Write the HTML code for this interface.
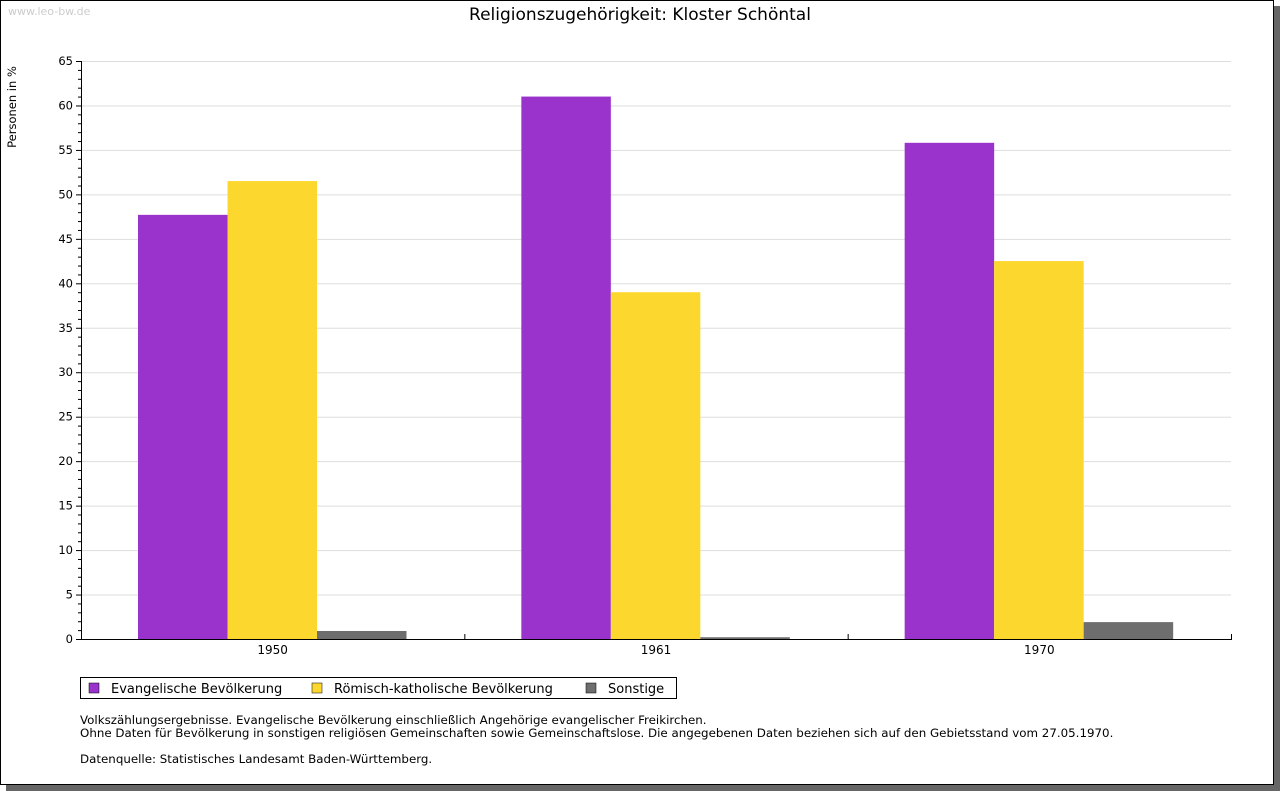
<!DOCTYPE html>
<html><head><meta charset="utf-8"><style>
body{margin:0;background:#fff;font-family:"Liberation Sans","DejaVu Sans",sans-serif}
svg text{font-family:"DejaVu Sans","Liberation Sans",sans-serif}
</style></head><body>
<svg id="c" width="1280" height="791" xmlns="http://www.w3.org/2000/svg">
<rect x="6" y="6" width="1274" height="785" fill="#666"/>
<rect x="0.5" y="0.5" width="1273" height="784" fill="#fff" stroke="#000"/>
<text x="8" y="15" font-size="11" fill="#ccc">www.leo-bw.de</text>
<text x="640" y="20" font-size="17" text-anchor="middle">Religionszugehörigkeit: Kloster Schöntal</text>
<text transform="translate(16,107) rotate(-90)" font-size="11.5" text-anchor="middle">Personen in %</text>
<g id="grid"></g><g id="bars"></g><g id="axes"></g>
<g>
<rect x="80.5" y="677.5" width="596" height="21" fill="#fff" stroke="#000"/>
<rect x="89" y="683" width="10" height="10" fill="#9933cc" stroke="#000" stroke-width="0.5"/>
<text x="111" y="693" font-size="13">Evangelische Bevölkerung</text>
<rect x="312" y="683" width="10" height="10" fill="#fcd82f" stroke="#000" stroke-width="0.5"/>
<text x="334" y="693" font-size="13">Römisch-katholische Bevölkerung</text>
<rect x="586" y="683" width="10" height="10" fill="#6e6e6e" stroke="#000" stroke-width="0.5"/>
<text x="608" y="693" font-size="13">Sonstige</text>
</g>
<g font-size="11.85">
<text x="80" y="724">Volkszählungsergebnisse. Evangelische Bevölkerung einschließlich Angehörige evangelischer Freikirchen.</text>
<text x="80" y="737">Ohne Daten für Bevölkerung in sonstigen religiösen Gemeinschaften sowie Gemeinschaftslose. Die angegebenen Daten beziehen sich auf den Gebietsstand vom 27.05.1970.</text>
<text x="80" y="763">Datenquelle: Statistisches Landesamt Baden-Württemberg.</text>
</g>
</svg>
<script>
const categories=["1950","1961","1970"];
const evangelisch=[47.7,61.0,55.8];
const katholisch=[51.5,39.0,42.5];
const sonstige=[0.9,0.2,1.9];
const yTicks=[0,5,10,15,20,25,30,35,40,45,50,55,60,65];
const NS="http://www.w3.org/2000/svg";
const X0=81,X1=1231,Y0=639,Y1=61,YMAX=65;
const y=v=>Y0-(v/YMAX)*(Y0-Y1);
const gw=(X1-X0)/categories.length;
const x=i=>X0+i*gw;
function mk(t,a,p){const e=document.createElementNS(NS,t);for(const k in a)e.setAttribute(k,a[k]);p.appendChild(e);return e;}
const grid=document.getElementById('grid'),bars=document.getElementById('bars'),axes=document.getElementById('axes');
yTicks.forEach(v=>{
 const l=mk('line',{x1:X0,x2:X1,y1:y(v)+0.5,y2:y(v)+0.5,stroke:'#ddd'},grid);
 
 
 const t=mk('text',{x:X0-8,y:y(v)+4,'font-size':11.5,'text-anchor':'end'},axes);t.textContent=v;
 
 
});
for(let v=0;v<=YMAX;v++){mk('line',{x1:X0-(v%5?3:5),x2:X0,y1:y(v)+0.5,y2:y(v)+0.5,stroke:'#000'},axes);}
const series=[[evangelisch,'#9933cc','evangelisch'],[katholisch,'#fcd82f','katholisch'],[sonstige,'#6e6e6e','sonstige']];
const bw=89.5,off=57;
categories.forEach((c,i)=>{
 series.forEach(([d,col,n],j)=>{
  const r=mk('rect',{x:x(i)+off+j*bw,y:y(d[i]),width:bw,height:Y0-y(d[i]),fill:col},bars);
  
  
 });
 const t=mk('text',{x:x(i)+gw/2,y:Y0+15,'font-size':12,'text-anchor':'middle'},axes);t.textContent=c;
 
 
 mk('line',{x1:x(i+1)+0.5,x2:x(i+1)+0.5,y1:Y0-5,y2:Y0,stroke:'#000'},axes);
});
const ya=mk('line',{x1:X0+0.5,x2:X0+0.5,y1:Y1,y2:Y0+1,stroke:'#000'},axes);


const xa=mk('line',{x1:X0,x2:X1+1,y1:Y0+0.5,y2:Y0+0.5,stroke:'#000'},axes);


</script>
</body></html>
